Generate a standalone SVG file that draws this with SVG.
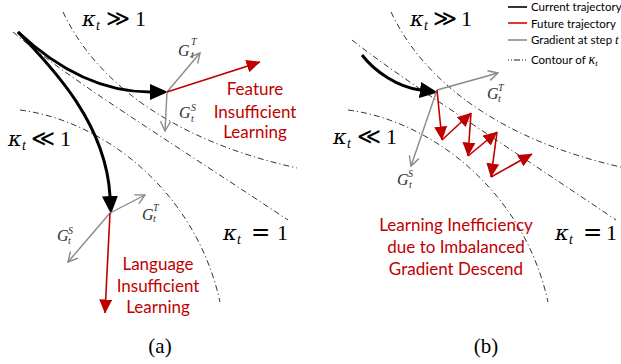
<svg xmlns="http://www.w3.org/2000/svg" width="621" height="364" viewBox="0 0 621 364">
<defs>
<style>
.contour{fill:none;stroke:#000;stroke-width:0.8;stroke-dasharray:6 3 1.2 3}
.traj{fill:none;stroke:#000;stroke-width:3;marker-end:url(#mk-black)}
.grad{fill:none;stroke:#8a8a8a;stroke-width:1.4;marker-end:url(#mk-gray)}
.fut{fill:none;stroke:#c00000;stroke-width:1.6;marker-end:url(#mk-red)}
.lbl{font-family:"Lato","Liberation Sans",sans-serif;font-size:17px;fill:#c00000;text-anchor:middle}
.kap{font-family:"DejaVu Serif","Liberation Serif",serif;font-size:21px;font-style:italic;fill:#000}
.rel{font-family:"DejaVu Sans","Liberation Serif",sans-serif;font-size:23px;fill:#000}
.one{font-family:"Liberation Serif","DejaVu Serif",serif;font-size:22px;fill:#000}
.sub{font-family:"Liberation Serif","DejaVu Serif",serif;font-size:14px;font-style:italic;fill:#000}
.g{font-family:"Liberation Serif","DejaVu Serif",serif;font-style:italic;font-size:16px;fill:#333}
.gs{font-family:"Liberation Serif","DejaVu Serif",serif;font-style:italic;font-size:10px;fill:#333}
.leg{font-family:"Lato","Liberation Sans",sans-serif;font-size:11.5px;fill:#000}
.legm{font-family:"Liberation Serif","DejaVu Serif",serif;font-style:italic;fill:#000}
.cap{font-family:"Liberation Serif","DejaVu Serif",serif;font-size:21px;text-anchor:middle;fill:#000}
</style>
<marker id="mk-black" viewBox="0 0 18 16" refX="0" refY="8" markerWidth="18" markerHeight="16" markerUnits="userSpaceOnUse" orient="auto"><path d="M0,0 L18,8 L0,16 Z" fill="#000"/></marker>
<marker id="mk-red" viewBox="0 0 14 13" refX="13.5" refY="6.5" markerWidth="14" markerHeight="13" markerUnits="userSpaceOnUse" orient="auto"><path d="M0,0 L14,6.5 L0,13 Z" fill="#c00000"/></marker>
<marker id="mk-gray" viewBox="-1 -1 12 12" refX="9.5" refY="5" markerWidth="12" markerHeight="12" markerUnits="userSpaceOnUse" orient="auto"><path d="M0,0 L9.5,5 L0,10" fill="none" stroke="#8a8a8a" stroke-width="1.4"/></marker>
</defs>
<rect width="621" height="364" fill="#fff"/>

<g id="contours">
<path class="contour" d="M63,12 C95,80 170,140 297,168"/>
<path class="contour" d="M13,32 C70,80 160,135 288,220"/>
<path class="contour" d="M20,110 C100,120 195,188 220,302"/>
<path class="contour" d="M391,12 C423,80 498,140 625,168"/>
<path class="contour" d="M352,40 C400,78 490,135 616,220"/>
<path class="contour" d="M348,110 C428,120 523,188 548,302"/>
</g>

<g id="connectors">
<path class="traj" d="M18,32 C50,62 95,92 150,92"/>
<path class="traj" d="M18,32 C55,70 106,125 110,196"/>
<path class="traj" d="M362,55 C375,72 398,87 420,90"/>
<line class="grad" x1="167" y1="92" x2="200" y2="53"/>
<line class="grad" x1="167" y1="92" x2="165" y2="131"/>
<line class="fut" x1="167" y1="92" x2="260" y2="62"/>
<line class="grad" x1="110" y1="213" x2="145" y2="195"/>
<line class="grad" x1="110" y1="213" x2="68" y2="262"/>
<line class="fut" x1="110" y1="213" x2="105" y2="313"/>
<line class="grad" x1="437" y1="90" x2="498" y2="73"/>
<line class="grad" x1="437" y1="90" x2="411" y2="166"/>
<line class="fut" x1="437" y1="90" x2="442" y2="140"/>
<line class="fut" x1="442" y1="140" x2="471" y2="113"/>
<line class="fut" x1="471" y1="113" x2="468" y2="156"/>
<line class="fut" x1="468" y1="156" x2="497" y2="132"/>
<line class="fut" x1="497" y1="132" x2="491" y2="177"/>
<line class="fut" x1="491" y1="177" x2="532" y2="154"/>
</g>

<g id="kappa-labels">
<text class="kap" x="82" y="26">κ</text><text class="sub" x="96" y="30">t</text><text class="rel" x="106" y="26">≫</text><text class="one" x="135" y="26">1</text>
<text class="kap" x="8" y="146">κ</text><text class="sub" x="22" y="150">t</text><text class="rel" x="31" y="146">≪</text><text class="one" x="60" y="146">1</text>
<text class="kap" x="223" y="240">κ</text><text class="sub" x="237" y="244">t</text><text class="rel" x="251" y="240">=</text><text class="one" x="277" y="240">1</text>
<text class="kap" x="410" y="26">κ</text><text class="sub" x="424" y="30">t</text><text class="rel" x="433" y="26">≫</text><text class="one" x="461" y="26">1</text>
<text class="kap" x="333" y="144">κ</text><text class="sub" x="347" y="148">t</text><text class="rel" x="357" y="144">≪</text><text class="one" x="386" y="144">1</text>
<text class="kap" x="555" y="240">κ</text><text class="sub" x="569" y="244">t</text><text class="rel" x="583" y="240">=</text><text class="one" x="606" y="240">1</text>
</g>

<g id="grad-labels">
<text class="g" x="178" y="56">G</text><text class="gs" x="191" y="45">T</text><text class="gs" x="191" y="58">t</text>
<text class="g" x="179" y="118">G</text><text class="gs" x="191" y="111">S</text><text class="gs" x="191" y="122">t</text>
<text class="g" x="142" y="220">G</text><text class="gs" x="153" y="211">T</text><text class="gs" x="153" y="222">t</text>
<text class="g" x="57" y="241">G</text><text class="gs" x="68" y="234">S</text><text class="gs" x="68" y="244">t</text>
<text class="g" x="487" y="99">G</text><text class="gs" x="498" y="91">T</text><text class="gs" x="498" y="102">t</text>
<text class="g" x="397" y="185">G</text><text class="gs" x="408" y="177">S</text><text class="gs" x="409" y="188">t</text>
</g>

<g id="note-feature">
<text class="lbl" x="255" y="95">Feature</text>
<text class="lbl" x="255" y="118">Insufficient</text>
<text class="lbl" x="255" y="138">Learning</text>
</g>
<g id="note-language">
<text class="lbl" x="158" y="270">Language</text>
<text class="lbl" x="158" y="292">Insufficient</text>
<text class="lbl" x="158" y="313">Learning</text>
</g>
<g id="note-inefficiency">
<text class="lbl" x="456" y="231">Learning Inefficiency</text>
<text class="lbl" x="456" y="253">due to Imbalanced</text>
<text class="lbl" x="456" y="275">Gradient Descend</text>
</g>

<g id="legend">
<line x1="508" y1="7" x2="527" y2="7" stroke="#000" stroke-width="1.6"/>
<text class="leg" x="531" y="11">Current trajectory</text>
<line x1="508" y1="23" x2="527" y2="23" stroke="#e00000" stroke-width="1.6"/>
<text class="leg" x="531" y="27.5">Future trajectory</text>
<line x1="508" y1="40" x2="527" y2="40" stroke="#8a8a8a" stroke-width="1.6"/>
<text class="leg" x="531" y="44">Gradient at step <tspan class="legm" font-size="13">t</tspan></text>
<line x1="508" y1="60" x2="527" y2="60" stroke="#000" stroke-width="0.9" stroke-dasharray="1 2 1 2 6 2"/>
<text class="leg" x="531" y="63.5">Contour of  <tspan class="legm" font-size="14">κ</tspan><tspan class="legm" font-size="9" dy="2">t</tspan></text>
</g>

<g id="captions">
<text class="cap" x="160" y="353">(a)</text>
<text class="cap" x="486" y="353">(b)</text>
</g>
</svg>
